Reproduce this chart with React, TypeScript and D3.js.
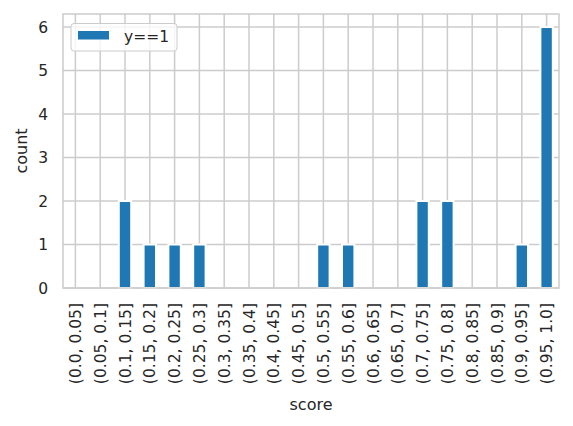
import React from 'react';
import * as d3 from 'd3';

// score bins (pd.cut intervals) and counts for y==1
const bins: string[] = [
  '(0.0, 0.05]', '(0.05, 0.1]', '(0.1, 0.15]', '(0.15, 0.2]', '(0.2, 0.25]',
  '(0.25, 0.3]', '(0.3, 0.35]', '(0.35, 0.4]', '(0.4, 0.45]', '(0.45, 0.5]',
  '(0.5, 0.55]', '(0.55, 0.6]', '(0.6, 0.65]', '(0.65, 0.7]', '(0.7, 0.75]',
  '(0.75, 0.8]', '(0.8, 0.85]', '(0.85, 0.9]', '(0.9, 0.95]', '(0.95, 1.0]',
];
const counts: number[] = [0, 0, 2, 1, 1, 1, 0, 0, 0, 0, 1, 1, 0, 0, 2, 2, 0, 0, 1, 6];
const yTicks: number[] = [0, 1, 2, 3, 4, 5, 6];
const seriesName = 'y==1';

const W = 573;
const H = 426;
const plot = { left: 63, right: 559, top: 14, bottom: 288 };
const font = '"DejaVu Sans", sans-serif';
const ink = '#262626';
const grid = '#cccccc';
const blue = '#1f77b4';

const App = () => {
  const x = d3
    .scaleBand<string>()
    .domain(bins)
    .range([plot.left, plot.right])
    .paddingInner(0.5)
    .paddingOuter(0.25);
  const y = d3.scaleLinear().domain([0, 6.3]).range([plot.bottom, plot.top]);
  const cx = (b: string) => (x(b) as number) + x.bandwidth() / 2;

  return (
    <svg
      width={W}
      height={H}
      style={{ position: 'absolute', left: 0, top: 0, background: '#fff' }}
      fontFamily={font}
    >
      {/* grid */}
      <g stroke={grid} strokeWidth={1.5}>
        {bins.map((b) => (
          <line key={b} x1={cx(b)} x2={cx(b)} y1={plot.top} y2={plot.bottom} />
        ))}
        {yTicks.map((t) => (
          <line key={t} x1={plot.left} x2={plot.right} y1={y(t)} y2={y(t)} />
        ))}
      </g>

      {/* bars */}
      <g fill={blue} stroke="#fff" strokeWidth={2}>
        {bins.map((b, i) =>
          counts[i] > 0 ? (
            <rect
              key={b}
              x={x(b)}
              y={y(counts[i])}
              width={x.bandwidth()}
              height={y(0) - y(counts[i])}
            />
          ) : null
        )}
      </g>

      {/* spines */}
      <rect
        x={plot.left}
        y={plot.top}
        width={plot.right - plot.left}
        height={plot.bottom - plot.top}
        fill="none"
        stroke={grid}
        strokeWidth={1.5}
      />

      {/* y tick labels */}
      <g fill={ink} fontSize={15.5} textAnchor="end">
        {yTicks.map((t) => (
          <text key={t} x={48} y={y(t)} dy="0.36em">
            {t}
          </text>
        ))}
      </g>

      {/* x tick labels */}
      <g fill={ink} fontSize={15.5} textAnchor="end">
        {bins.map((b) => (
          <text
            key={b}
            transform={`translate(${cx(b)},${plot.bottom + 15}) rotate(-90)`}
            dy="0.36em"
          >
            {b}
          </text>
        ))}
      </g>

      {/* axis labels */}
      <text
        x={(plot.left + plot.right) / 2}
        y={410}
        fill={ink}
        fontSize={16}
        textAnchor="middle"
      >
        score
      </text>
      <text
        transform={`translate(27,${(plot.top + plot.bottom) / 2}) rotate(-90)`}
        fill={ink}
        fontSize={16}
        textAnchor="middle"
      >
        count
      </text>

      {/* legend */}
      <g>
        <rect
          x={71}
          y={23.5}
          width={106}
          height={27.5}
          rx={3}
          fill="#fff"
          fillOpacity={0.8}
          stroke={grid}
          strokeWidth={1}
        />
        <rect x={78} y={31} width={31} height={8.5} fill={blue} />
        <text x={124} y={41.5} fill={ink} fontSize={15.5}>
          {seriesName}
        </text>
      </g>
    </svg>
  );
};

export default App;
